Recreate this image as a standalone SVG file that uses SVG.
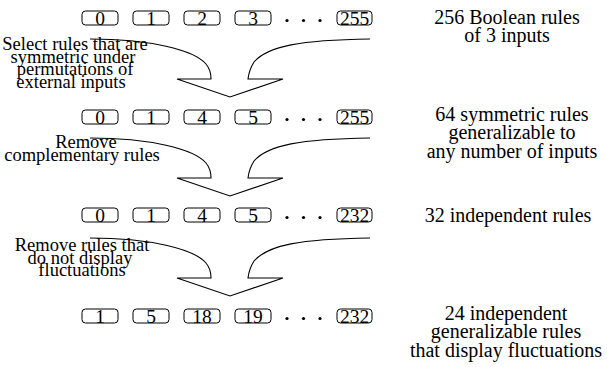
<svg xmlns="http://www.w3.org/2000/svg" width="607" height="367" viewBox="0 0 607 367" font-family="'Liberation Serif', 'Times New Roman', 'DejaVu Serif', serif">
  <style>
    text { font-family: "Liberation Serif", "Times New Roman", "DejaVu Serif", serif; fill: #000; }
    .num { font-size: 19.5px; text-anchor: middle; }
    .step { font-size: 18.5px; text-anchor: middle; }
    .desc { font-size: 20px; text-anchor: middle; }
    .box { fill: #fff; stroke: #000; stroke-width: 1; }
    .dot { fill: #000; }
    .arrow { fill: none; stroke: #000; stroke-width: 1.1; stroke-linejoin: miter; }
  </style>
  <defs>
    <!-- split-and-merge arrow between two rows of rules -->
    <path id="funnel" class="arrow" d="M90,39 C150,39 194,50 206,64 Q211,70 211,79 L177,79 L230,97 L283,79 L248,79 Q249,70 254,62 C268,46 300,40 370,39"/>
  </defs>

  <!-- rows of rule numbers -->
  <g id="row1">
    <rect class="box" x="82" y="11" width="36" height="14" rx="3.5"/><text class="num" x="100" y="24.5">0</text>
    <rect class="box" x="133" y="11" width="36" height="14" rx="3.5"/><text class="num" x="151" y="24.5">1</text>
    <rect class="box" x="184" y="11" width="36" height="14" rx="3.5"/><text class="num" x="202" y="24.5">2</text>
    <rect class="box" x="235" y="11" width="36" height="14" rx="3.5"/><text class="num" x="253" y="24.5">3</text>
    <circle class="dot" cx="287" cy="20.5" r="1.6"/><circle class="dot" cx="303.5" cy="20.5" r="1.6"/><circle class="dot" cx="320" cy="20.5" r="1.6"/>
    <rect class="box" x="337" y="11" width="35" height="14" rx="3.5"/><text class="num" x="354.5" y="24.5">255</text>
  </g>
  <g id="row2">
    <rect class="box" x="82" y="110" width="36" height="14" rx="3.5"/><text class="num" x="100" y="123.5">0</text>
    <rect class="box" x="133" y="110" width="36" height="14" rx="3.5"/><text class="num" x="151" y="123.5">1</text>
    <rect class="box" x="184" y="110" width="36" height="14" rx="3.5"/><text class="num" x="202" y="123.5">4</text>
    <rect class="box" x="235" y="110" width="36" height="14" rx="3.5"/><text class="num" x="253" y="123.5">5</text>
    <circle class="dot" cx="287" cy="119.5" r="1.6"/><circle class="dot" cx="303.5" cy="119.5" r="1.6"/><circle class="dot" cx="320" cy="119.5" r="1.6"/>
    <rect class="box" x="337" y="110" width="35" height="14" rx="3.5"/><text class="num" x="354.5" y="123.5">255</text>
  </g>
  <g id="row3">
    <rect class="box" x="82" y="208" width="36" height="14" rx="3.5"/><text class="num" x="100" y="221.5">0</text>
    <rect class="box" x="133" y="208" width="36" height="14" rx="3.5"/><text class="num" x="151" y="221.5">1</text>
    <rect class="box" x="184" y="208" width="36" height="14" rx="3.5"/><text class="num" x="202" y="221.5">4</text>
    <rect class="box" x="235" y="208" width="36" height="14" rx="3.5"/><text class="num" x="253" y="221.5">5</text>
    <circle class="dot" cx="287" cy="217.5" r="1.6"/><circle class="dot" cx="303.5" cy="217.5" r="1.6"/><circle class="dot" cx="320" cy="217.5" r="1.6"/>
    <rect class="box" x="337" y="208" width="35" height="14" rx="3.5"/><text class="num" x="354.5" y="221.5">232</text>
  </g>
  <g id="row4">
    <rect class="box" x="82" y="309" width="36" height="14" rx="3.5"/><text class="num" x="100" y="322.5">1</text>
    <rect class="box" x="133" y="309" width="36" height="14" rx="3.5"/><text class="num" x="151" y="322.5">5</text>
    <rect class="box" x="184" y="309" width="36" height="14" rx="3.5"/><text class="num" x="202" y="322.5">18</text>
    <rect class="box" x="235" y="309" width="36" height="14" rx="3.5"/><text class="num" x="253" y="322.5">19</text>
    <circle class="dot" cx="287" cy="318.5" r="1.6"/><circle class="dot" cx="303.5" cy="318.5" r="1.6"/><circle class="dot" cx="320" cy="318.5" r="1.6"/>
    <rect class="box" x="337" y="309" width="35" height="14" rx="3.5"/><text class="num" x="354.5" y="322.5">232</text>
  </g>

  <!-- filtering steps -->
  <g id="connectors">
    <use href="#funnel"/>
    <use href="#funnel" transform="translate(0,99)"/>
    <use href="#funnel" transform="translate(0,199)"/>
  </g>

  <g id="step1">
    <text class="step" x="75" y="50">Select rules that are</text>
    <text class="step" x="73" y="62.5">symmetric under</text>
    <text class="step" x="75" y="75">permutations of</text>
    <text class="step" x="71" y="87.5">external inputs</text>
  </g>
  <g id="step2">
    <text class="step" x="86" y="148">Remove</text>
    <text class="step" x="82" y="160.5">complementary rules</text>
  </g>
  <g id="step3">
    <text class="step" x="82" y="251">Remove rules that</text>
    <text class="step" x="80" y="263.5">do not display</text>
    <text class="step" x="82" y="276">fluctuations</text>
  </g>

  <!-- row descriptions -->
  <g id="desc1">
    <text class="desc" x="507" y="24">256 Boolean rules</text>
    <text class="desc" x="507" y="42">of 3 inputs</text>
  </g>
  <g id="desc2">
    <text class="desc" x="512" y="121">64 symmetric rules</text>
    <text class="desc" x="512" y="139">generalizable to</text>
    <text class="desc" x="512" y="158">any number of inputs</text>
  </g>
  <g id="desc3">
    <text class="desc" x="508" y="222">32 independent rules</text>
  </g>
  <g id="desc4">
    <text class="desc" x="506" y="320">24 independent</text>
    <text class="desc" x="506" y="338">generalizable rules</text>
    <text class="desc" x="506" y="357">that display fluctuations</text>
  </g>
</svg>
